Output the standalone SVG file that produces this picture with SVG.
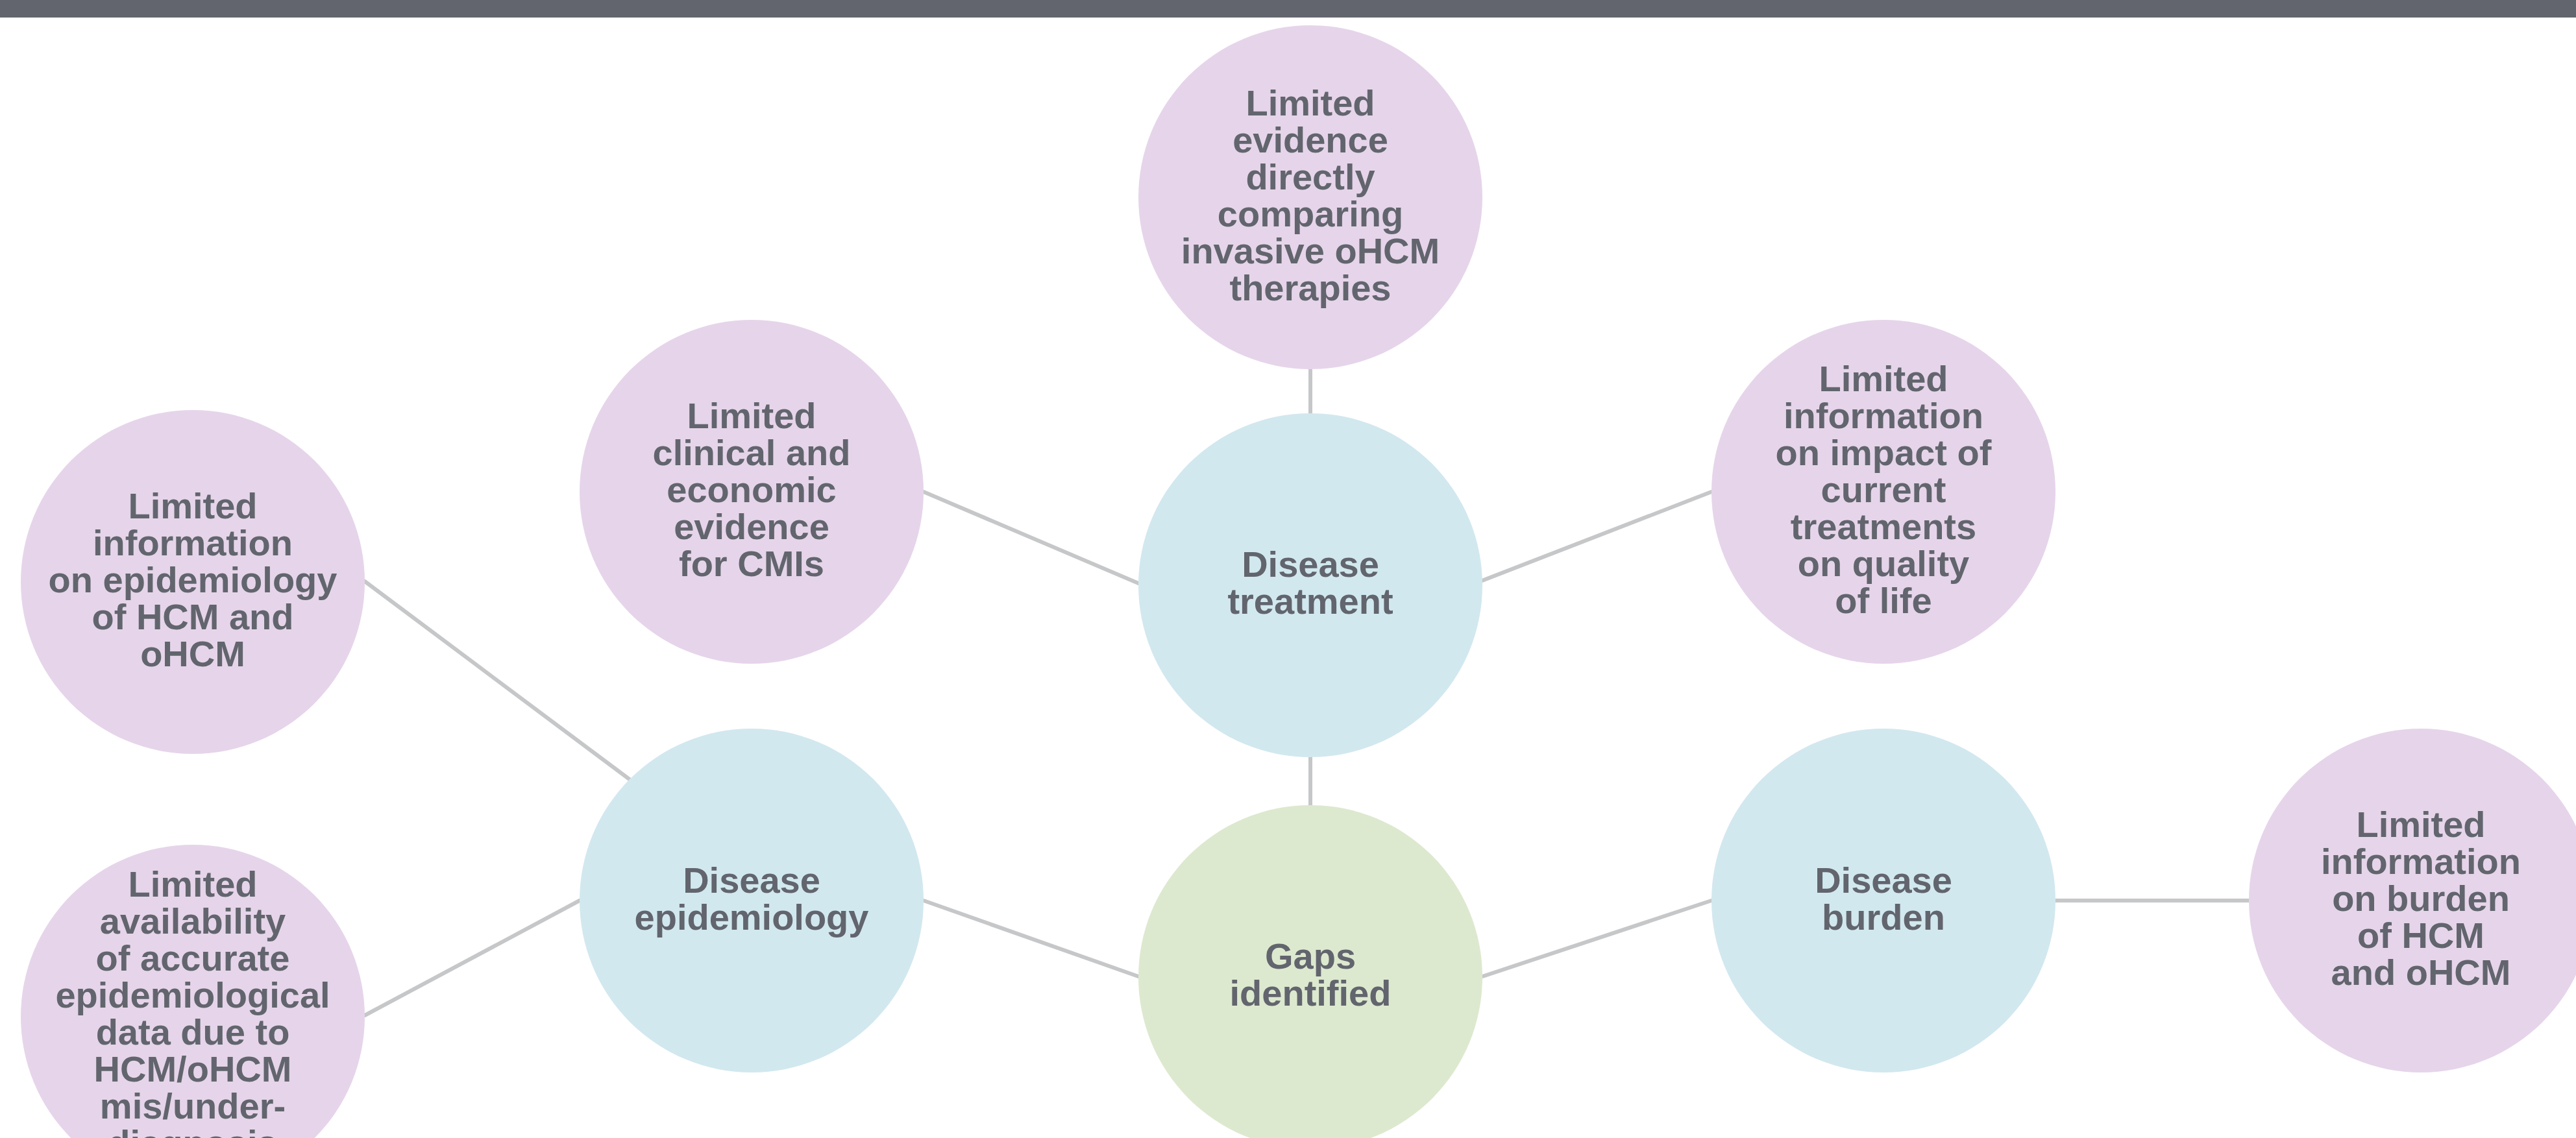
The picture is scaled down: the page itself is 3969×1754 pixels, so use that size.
<svg xmlns="http://www.w3.org/2000/svg" width="3969" height="1754" viewBox="0 0 3969 1754">
<style>
.bg{fill:#ffffff}
.hdr{fill:#62656d}
.pur{fill:#e6d5ea}
.blu{fill:#d2e8ef}
.grn{fill:#dde9cf}
.con{stroke:#c6c7c9;stroke-width:6;stroke-linecap:round;fill:none}
.t{font-family:"Liberation Sans",Arial,Helvetica,sans-serif;font-weight:bold;font-size:56px;fill:#62656d;text-anchor:middle}
</style>
<rect class="bg" x="0" y="0" width="3969" height="1754"/>
<rect class="hdr" x="0" y="0" width="3969" height="27"/>
<g id="connectors">
<line class="con" x1="2019" y1="569" x2="2019" y2="637"/>
<line class="con" x1="2019" y1="1167" x2="2019" y2="1241"/>
<line class="con" x1="1423" y1="758" x2="1754" y2="899"/>
<line class="con" x1="2281" y1="896" x2="2637" y2="758"/>
<line class="con" x1="562" y1="896" x2="971" y2="1202"/>
<line class="con" x1="562" y1="1565" x2="893" y2="1388"/>
<line class="con" x1="1423" y1="1388" x2="1754" y2="1505"/>
<line class="con" x1="2284" y1="1505" x2="2637" y2="1388"/>
<line class="con" x1="3167" y1="1388" x2="3466" y2="1388"/>
</g>
<g id="n-evidence-direct">
<circle class="pur" cx="2019" cy="304" r="265"/>
<text class="t"><tspan x="2019" y="178">Limited</tspan><tspan x="2019" y="235">evidence</tspan><tspan x="2019" y="292">directly</tspan><tspan x="2019" y="349">comparing</tspan><tspan x="2019" y="406">invasive oHCM</tspan><tspan x="2019" y="463">therapies</tspan></text>
</g>
<g id="n-treatment">
<circle class="blu" cx="2019" cy="902" r="265"/>
<text class="t"><tspan x="2019" y="889">Disease</tspan><tspan x="2019" y="946">treatment</tspan></text>
</g>
<g id="n-gaps">
<circle class="grn" cx="2019" cy="1506" r="265"/>
<text class="t"><tspan x="2019" y="1493">Gaps</tspan><tspan x="2019" y="1550">identified</tspan></text>
</g>
<g id="n-clinical">
<circle class="pur" cx="1158" cy="758" r="265"/>
<text class="t"><tspan x="1158" y="660">Limited</tspan><tspan x="1158" y="717">clinical and</tspan><tspan x="1158" y="774">economic</tspan><tspan x="1158" y="831">evidence</tspan><tspan x="1158" y="888">for CMIs</tspan></text>
</g>
<g id="n-impact">
<circle class="pur" cx="2902" cy="758" r="265"/>
<text class="t"><tspan x="2902" y="603">Limited</tspan><tspan x="2902" y="660">information</tspan><tspan x="2902" y="717">on impact of</tspan><tspan x="2902" y="774">current</tspan><tspan x="2902" y="831">treatments</tspan><tspan x="2902" y="888">on quality</tspan><tspan x="2902" y="945">of life</tspan></text>
</g>
<g id="n-epidemiology">
<circle class="blu" cx="1158" cy="1388" r="265"/>
<text class="t"><tspan x="1158" y="1376">Disease</tspan><tspan x="1158" y="1433">epidemiology</tspan></text>
</g>
<g id="n-burden">
<circle class="blu" cx="2902" cy="1388" r="265"/>
<text class="t"><tspan x="2902" y="1376">Disease</tspan><tspan x="2902" y="1433">burden</tspan></text>
</g>
<g id="n-info-epi">
<circle class="pur" cx="297" cy="897" r="265"/>
<text class="t"><tspan x="297" y="799">Limited</tspan><tspan x="297" y="856">information</tspan><tspan x="297" y="913">on epidemiology</tspan><tspan x="297" y="970">of HCM and</tspan><tspan x="297" y="1027">oHCM</tspan></text>
</g>
<g id="n-availability">
<circle class="pur" cx="297" cy="1567" r="265"/>
<text class="t"><tspan x="297" y="1382">Limited</tspan><tspan x="297" y="1439">availability</tspan><tspan x="297" y="1496">of accurate</tspan><tspan x="297" y="1553">epidemiological</tspan><tspan x="297" y="1610">data due to</tspan><tspan x="297" y="1667">HCM/oHCM</tspan><tspan x="297" y="1724">mis/under-</tspan><tspan x="297" y="1781">diagnosis</tspan></text>
</g>
<g id="n-info-burden">
<circle class="pur" cx="3730" cy="1388" r="265"/>
<text class="t"><tspan x="3730" y="1290">Limited</tspan><tspan x="3730" y="1347">information</tspan><tspan x="3730" y="1404">on burden</tspan><tspan x="3730" y="1461">of HCM</tspan><tspan x="3730" y="1518">and oHCM</tspan></text>
</g>
</svg>
